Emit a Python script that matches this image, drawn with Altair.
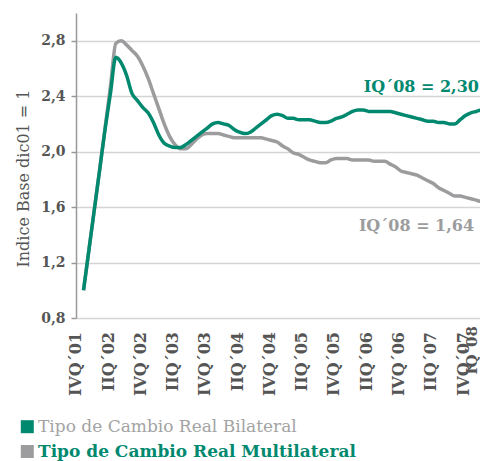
import altair as alt
import pandas as pd

FONT = "DejaVu Serif"
GREEN = "#00896F"
GRAY = "#9C9C9E"
LABEL = "#555555"

# monthly index: 0 = dic 2001 ... 75 = mar 2008
months = list(range(76))
bilateral = [
    1.00, 1.29, 1.58, 1.87, 2.16, 2.42,
    2.68, 2.64, 2.55, 2.42, 2.37, 2.32,
    2.28, 2.21, 2.12, 2.06, 2.04, 2.03,
    2.03, 2.05, 2.08, 2.11, 2.14, 2.17,
    2.20, 2.21, 2.20, 2.19, 2.16, 2.14,
    2.13, 2.14, 2.17, 2.20, 2.23, 2.26,
    2.27, 2.26, 2.24, 2.24, 2.23, 2.23,
    2.23, 2.22, 2.21, 2.21, 2.22, 2.24,
    2.25, 2.27, 2.29, 2.30, 2.30, 2.29,
    2.29, 2.29, 2.29, 2.29, 2.28, 2.27,
    2.26, 2.25, 2.24, 2.23, 2.22, 2.22,
    2.21, 2.21, 2.20, 2.20, 2.23, 2.26,
    2.28, 2.29, 2.30, 2.30,
]
multilateral = [
    1.00, 1.29, 1.58, 1.87, 2.17, 2.47,
    2.78, 2.80, 2.77, 2.73, 2.69, 2.62,
    2.53, 2.42, 2.31, 2.20, 2.11, 2.05,
    2.02, 2.02, 2.05, 2.09, 2.12, 2.13,
    2.13, 2.13, 2.12, 2.11, 2.10, 2.10,
    2.10, 2.10, 2.10, 2.10, 2.09, 2.08,
    2.07, 2.04, 2.02, 1.99, 1.98, 1.96,
    1.94, 1.93, 1.92, 1.92, 1.94, 1.95,
    1.95, 1.95, 1.94, 1.94, 1.94, 1.94,
    1.93, 1.93, 1.93, 1.91, 1.89, 1.86,
    1.85, 1.84, 1.83, 1.81, 1.79, 1.77,
    1.74, 1.72, 1.70, 1.68, 1.68, 1.67,
    1.66, 1.65, 1.64, 1.64,
]
series_names = ["Tipo de Cambio Real Bilateral", "Tipo de Cambio Real Multilateral"]
x_labels = ["IVQ´01", "IIQ´02", "IVQ´02", "IIQ´03", "IVQ´03", "IIQ´04", "IVQ´04",
            "IIQ´05", "IVQ´05", "IIQ´06", "IVQ´06", "IIQ´07", "IVQ´07", "IQ´08"]
x_label_pos = [-1.35 + 6 * j for j in range(13)] + [72.2]
x_grid = [-1.4 + 15 * m for m in range(6)]
y_ticks = [0.8, 1.2, 1.6, 2.0, 2.4, 2.8]
end_notes = ["IQ´08 = 2,30", "IQ´08 = 1,64"]

W, H = 404, 305

df = pd.DataFrame({
    "month": months * 2,
    "value": bilateral + multilateral,
    "series": [series_names[0]] * len(months) + [series_names[1]] * len(months),
})

xscale = alt.Scale(domain=[-1.4, 73.7], nice=False, zero=False)
yscale = alt.Scale(domain=[0.8, 3.0], nice=False, zero=False)

xaxis = alt.Axis(values=x_grid, labels=False, title=None, grid=True, ticks=True,
                 tickSize=5, tickColor="#999999", tickWidth=1.5,
                 domainColor="#999999", domainWidth=1.5,
                 gridColor="#d4d4d4", gridWidth=1.5)
yaxis = alt.Axis(values=y_ticks, grid=True, gridColor="#d4d4d4", gridWidth=1.5,
                 tickSize=5, tickColor="#999999", tickWidth=1.5,
                 domainColor="#999999", domainWidth=1.5,
                 labelFont=FONT, labelFontSize=14, labelFontWeight="bold",
                 labelColor=LABEL, labelPadding=6,
                 labelExpr="replace(format(datum.value, '.1f'), '.', ',')",
                 title="Indice Base dic01 = 1", titleFont=FONT, titleFontSize=16,
                 titleFontWeight="normal", titleColor=LABEL, titlePadding=9,
                 titleY=165)

base = alt.Chart(df).mark_line(strokeWidth=3.5, interpolate="monotone", clip=True)

gray_line = base.transform_filter(alt.datum.series == series_names[1]).encode(
    x=alt.X("month:Q", scale=xscale, axis=xaxis),
    y=alt.Y("value:Q", scale=yscale, axis=yaxis),
    color=alt.value(GRAY),
)
green_line = base.transform_filter(alt.datum.series == series_names[0]).encode(
    x=alt.X("month:Q", scale=xscale),
    y=alt.Y("value:Q", scale=yscale),
    color=alt.value(GREEN),
)

xlab_df = pd.DataFrame({"pos": x_label_pos, "label": x_labels, "idx": list(range(len(x_labels)))})
xlab_style = dict(angle=270, align="right", baseline="middle", font=FONT,
                  fontWeight="bold", color=LABEL)
xlabels = alt.Chart(xlab_df).transform_filter(alt.datum.idx < 13).mark_text(
    fontSize=16, **xlab_style).encode(
    x=alt.X("pos:Q", scale=xscale, axis=None),
    y=alt.value(H + 14),
    text="label:N",
)
xlabel_last = alt.Chart(xlab_df).transform_filter(alt.datum.idx == 13).mark_text(
    fontSize=15, **xlab_style).encode(
    x=alt.X("pos:Q", scale=xscale, axis=None),
    y=alt.value(H + 8),
    text="label:N",
)

notes_df = pd.DataFrame({"note": end_notes})
note_green = alt.Chart(notes_df).transform_filter(alt.datum.note == end_notes[0]).mark_text(
    align="right", baseline="middle", font=FONT, fontSize=16, fontWeight="bold", color=GREEN
).encode(x=alt.datum(73.5, scale=xscale), y=alt.datum(2.468, scale=yscale), text="note:N")
note_gray = alt.Chart(notes_df).transform_filter(alt.datum.note == end_notes[1]).mark_text(
    align="right", baseline="middle", font=FONT, fontSize=16, fontWeight="bold", color=GRAY
).encode(x=alt.datum(72.6, scale=xscale), y=alt.datum(1.467, scale=yscale), text="note:N")

leg_df = pd.DataFrame({"name": series_names})
leg_sq1 = alt.Chart(leg_df).transform_filter(alt.datum.name == series_names[0]).mark_square(
    size=169, opacity=1, color=GREEN).encode(x=alt.value(-48.7), y=alt.value(413.7))
leg_sq2 = alt.Chart(leg_df).transform_filter(alt.datum.name == series_names[1]).mark_square(
    size=169, opacity=1, color=GRAY).encode(x=alt.value(-48.7), y=alt.value(438.5))
leg_t1 = alt.Chart(leg_df).transform_filter(alt.datum.name == series_names[0]).mark_text(
    align="left", baseline="middle", font=FONT, fontSize=17, color="#A3A3A3"
).encode(x=alt.value(-38), y=alt.value(413.5), text="name:N")
leg_t2 = alt.Chart(leg_df).transform_filter(alt.datum.name == series_names[1]).mark_text(
    align="left", baseline="middle", font=FONT, fontSize=17, fontWeight="bold", color=GREEN
).encode(x=alt.value(-38), y=alt.value(438.5), text="name:N")

chart = alt.layer(
    gray_line, green_line, xlabels, xlabel_last, note_green, note_gray,
    leg_sq1, leg_sq2, leg_t1, leg_t2,
).properties(
    width=W, height=H,
    padding={"left": 68, "top": 5, "right": 0, "bottom": 143},
    autosize=alt.AutoSizeParams(type="none"),
).configure_view(stroke=None)

chart.save("out.html", embed_options={"renderer": "svg", "actions": False})
